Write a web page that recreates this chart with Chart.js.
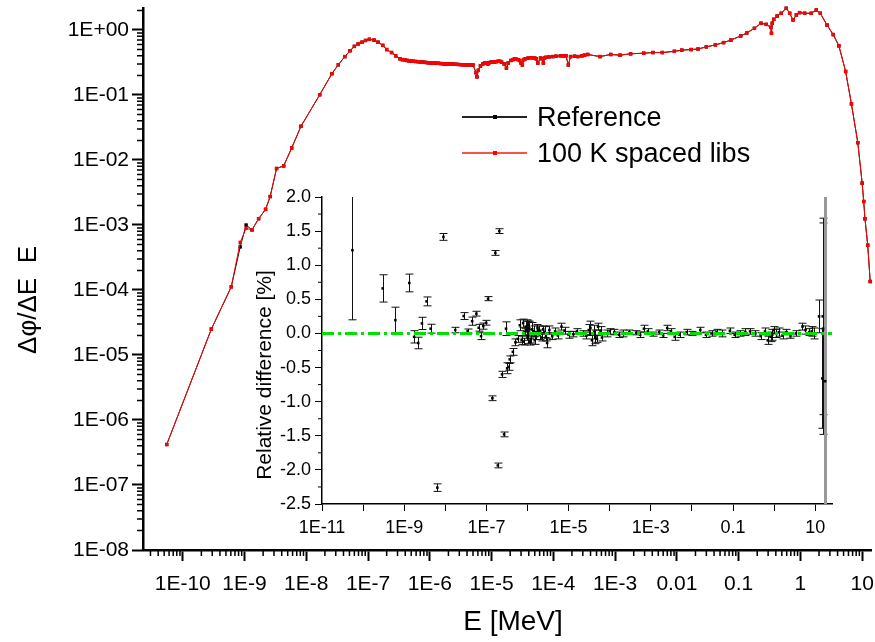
<!DOCTYPE html>
<html>
<head>
<meta charset="utf-8">
<script src="https://cdn.jsdelivr.net/npm/chart.js@4.4.0/dist/chart.umd.min.js"></script>
<style>
  html, body { margin: 0; padding: 0; background: #fff; }
  #wrap { position: relative; width: 875px; height: 642px; overflow: hidden;
          font-family: "Liberation Sans", Arial, sans-serif; }
  #mainChart { position: absolute; left: 0; top: 0; }
  #insetChart { position: absolute; left: 230px; top: 185px; }
  .leg { position: absolute; left: 462px; height: 0; }
  .leg .ln { position: absolute; left: 0; width: 65px; height: 1.5px; top: -1px; }
  .leg .mk { position: absolute; left: 31px; width: 4px; height: 4px; top: -2px; }
  .leg span { position: absolute; left: 75px; top: -16px; font-size: 27px; line-height: 32px;
              white-space: nowrap; color: #000; }
</style>
</head>
<body>
<div id="wrap">
  <canvas id="mainChart" width="875" height="642"></canvas>
  <canvas id="insetChart" width="620" height="360"></canvas>
  <div class="leg" style="top:117px"><div class="ln" style="background:#222"></div><div class="mk" style="background:#000"></div><span>Reference</span></div>
  <div class="leg" style="top:153px"><div class="ln" style="background:#ff5050"></div><div class="mk" style="background:#ff0000"></div><span>100 K spaced libs</span></div>
</div>
<script>
// ---- main spectrum: E [MeV] vs flux per lethargy ----
const energy = [
  5.5e-11, 2.9e-10, 6.1e-10, 8.5e-10, 1.06e-9, 1.32e-9, 1.69e-9, 2.19e-9, 2.6e-9, 3.3e-9,
  4.3e-9, 5.8e-9, 8.2e-9, 1.65e-8, 2.6e-8, 3.3e-8, 4.2e-8, 5.1e-8, 6.0e-8, 6.9e-8,
  8.0e-8, 9.1e-8, 1.05e-7, 1.25e-7, 1.45e-7, 1.73e-7, 2.0e-7, 2.4e-7, 2.8e-7, 3.3e-7,
  3.6e-7, 4.0e-7, 4.3e-7, 4.6e-7, 5.0e-7, 5.4e-7, 5.9e-7, 6.5e-7, 7.1e-7, 7.7e-7,
  8.3e-7, 9.0e-7, 9.7e-7, 1.05e-6, 1.15e-6, 1.25e-6, 1.37e-6, 1.5e-6, 1.62e-6, 1.75e-6,
  1.87e-6, 2.0e-6, 2.2e-6, 2.4e-6, 2.65e-6, 2.9e-6, 3.2e-6, 3.5e-6, 3.85e-6, 4.2e-6,
  4.6e-6, 5.0e-6, 5.6e-6, 5.8e-6, 6.1e-6, 6.6e-6, 7.2e-6, 7.7e-6, 8.2e-6, 8.7e-6,
  9.2e-6, 9.8e-6, 1.04e-5, 1.1e-5, 1.18e-5, 1.27e-5, 1.36e-5, 1.45e-5, 1.6e-5, 1.74e-5,
  1.85e-5, 2.05e-5, 2.2e-5, 2.35e-5, 2.5e-5, 2.7e-5, 2.85e-5, 3.0e-5, 3.15e-5, 3.3e-5,
  3.5e-5, 3.9e-5, 4.3e-5, 4.6e-5, 5.0e-5, 5.3e-5, 5.6e-5, 6.2e-5, 6.55e-5, 6.9e-5,
  7.2e-5, 7.6e-5, 8.5e-5, 9.8e-5, 1.1e-4, 1.3e-4, 1.45e-4, 1.6e-4, 1.75e-4, 1.9e-4,
  2.2e-4, 2.5e-4, 2.9e-4, 3.2e-4, 3.6e-4, 5.7e-4, 8.5e-4, 1.2e-3, 1.78e-3, 2.9e-3,
  4.1e-3, 5.8e-3, 9.1e-3, 1.2e-2, 1.7e-2, 2.2e-2, 3.0e-2, 4.2e-2, 5.7e-2, 7.5e-2,
  0.108, 0.135, 0.18, 0.23, 0.28, 0.33, 0.34, 0.35, 0.37, 0.42,
  0.49, 0.59, 0.67, 0.76, 0.86, 0.97, 1.17, 1.5, 1.81, 2.1,
  2.7, 3.4, 4.2, 5.4, 6.7, 8.5, 10.0, 10.6, 11.1, 12.3,
  13.5
];
const libFlux = [
  4.2e-7, 2.5e-5, 1.12e-4, 5.4e-4, 8.9e-4, 8.4e-4, 1.25e-3, 1.74e-3, 2.74e-3, 7.4e-3,
  8.1e-3, 1.53e-2, 3.3e-2, 0.101, 0.213, 0.292, 0.389, 0.48, 0.56, 0.61,
  0.65, 0.69, 0.72, 0.70, 0.65, 0.58, 0.50, 0.45, 0.40, 0.36,
  0.35, 0.345, 0.34, 0.335, 0.333, 0.33, 0.328, 0.325, 0.322, 0.32,
  0.318, 0.315, 0.313, 0.31, 0.31, 0.31, 0.308, 0.305, 0.303, 0.30,
  0.30, 0.30, 0.30, 0.30, 0.297, 0.295, 0.293, 0.29, 0.29, 0.29,
  0.29, 0.29, 0.22, 0.19, 0.24, 0.28, 0.30, 0.31, 0.31, 0.30,
  0.315, 0.32, 0.32, 0.32, 0.325, 0.33, 0.33, 0.32, 0.30, 0.26,
  0.31, 0.34, 0.35, 0.36, 0.355, 0.35, 0.34, 0.31, 0.29, 0.35,
  0.36, 0.37, 0.375, 0.375, 0.37, 0.36, 0.31, 0.37, 0.36, 0.31,
  0.37, 0.38, 0.385, 0.39, 0.395, 0.40, 0.40, 0.40, 0.29, 0.39,
  0.395, 0.39, 0.40, 0.41, 0.42, 0.39, 0.42, 0.41, 0.43, 0.44,
  0.45, 0.45, 0.47, 0.49, 0.50, 0.51, 0.55, 0.59, 0.64, 0.70,
  0.81, 0.90, 1.06, 1.27, 1.22, 1.10, 0.89, 1.27, 1.46, 1.64,
  1.81, 2.16, 1.81, 1.43, 1.70, 1.85, 1.81, 1.81, 2.03, 1.81,
  1.19, 0.85, 0.57, 0.23, 0.073, 0.0185, 4.4e-3, 2.3e-3, 1.25e-3, 4.9e-4,
  1.35e-4
];
const refFlux = [
  4.2e-7, 2.5e-5, 1.12e-4, 4.6e-4, 1.0e-3, 8.4e-4, 1.25e-3, 1.74e-3, 2.74e-3, 7.4e-3,
  8.1e-3, 1.53e-2, 3.3e-2, 0.101, 0.213, 0.292, 0.389, 0.48, 0.56, 0.61,
  0.65, 0.69, 0.72, 0.70, 0.65, 0.58, 0.50, 0.45, 0.40, 0.36,
  0.35, 0.345, 0.34, 0.335, 0.333, 0.33, 0.328, 0.325, 0.322, 0.32,
  0.318, 0.315, 0.313, 0.31, 0.31, 0.31, 0.308, 0.305, 0.303, 0.30,
  0.30, 0.30, 0.30, 0.30, 0.297, 0.295, 0.293, 0.29, 0.29, 0.29,
  0.29, 0.29, 0.22, 0.19, 0.24, 0.28, 0.30, 0.31, 0.31, 0.30,
  0.315, 0.32, 0.32, 0.32, 0.325, 0.33, 0.33, 0.32, 0.30, 0.26,
  0.31, 0.34, 0.35, 0.36, 0.355, 0.35, 0.34, 0.31, 0.29, 0.35,
  0.36, 0.37, 0.375, 0.375, 0.37, 0.36, 0.31, 0.37, 0.36, 0.31,
  0.37, 0.38, 0.385, 0.39, 0.395, 0.40, 0.40, 0.40, 0.29, 0.39,
  0.395, 0.39, 0.40, 0.41, 0.42, 0.39, 0.42, 0.41, 0.43, 0.44,
  0.45, 0.45, 0.47, 0.49, 0.50, 0.51, 0.55, 0.59, 0.64, 0.70,
  0.81, 0.90, 1.06, 1.27, 1.22, 1.10, 0.89, 1.27, 1.46, 1.64,
  1.81, 2.16, 1.81, 1.43, 1.70, 1.85, 1.81, 1.81, 2.03, 1.81,
  1.19, 0.85, 0.57, 0.23, 0.073, 0.0185, 4.4e-3, 2.3e-3, 1.25e-3, 4.9e-4,
  1.35e-4
];
const mainXTickValues = [1e-10, 1e-9, 1e-8, 1e-7, 1e-6, 1e-5, 1e-4, 1e-3, 1e-2, 1e-1, 1, 10];
const mainXTickLabels = ["1E-10", "1E-9", "1E-8", "1E-7", "1E-6", "1E-5", "1E-4", "1E-3", "0.01", "0.1", "1", "10"];
const mainYTickValues = [1e-8, 1e-7, 1e-6, 1e-5, 1e-4, 1e-3, 1e-2, 1e-1, 1];
const mainYTickLabels = ["1E-08", "1E-07", "1E-06", "1E-05", "1E-04", "1E-03", "1E-02", "1E-01", "1E+00"];

// ---- inset: relative difference [%] with uncertainties ----
const rdEnergy = [
  5.5e-11, 3.0e-10, 6.1e-10, 1.33e-9, 1.74e-9, 2.2e-9, 2.7e-9, 3.5e-9, 4.4e-9, 6.4e-9,
  9.0e-9, 1.74e-8, 2.8e-8, 3.5e-8, 4.5e-8, 5.7e-8, 6.5e-8, 7.4e-8, 8.4e-8, 9.8e-8,
  1.1e-7, 1.4e-7, 1.65e-7, 1.9e-7, 2.06e-7, 2.4e-7, 2.7e-7, 3.0e-7, 3.2e-7, 3.5e-7,
  3.7e-7, 4.4e-7, 5.1e-7, 5.8e-7, 6.5e-7, 7.2e-7, 7.8e-7, 8.0e-7, 8.5e-7, 9.0e-7,
  9.5e-7, 1.0e-6, 1.05e-6, 1.1e-6, 1.15e-6, 1.2e-6, 1.3e-6, 1.4e-6, 1.5e-6, 1.6e-6,
  1.75e-6, 1.9e-6, 2.0e-6, 2.2e-6, 2.4e-6, 2.6e-6, 2.8e-6, 3.0e-6, 3.4e-6, 4.0e-6,
  4.7e-6, 5.5e-6, 6.7e-6, 8.0e-6, 1.0e-5, 1.3e-5, 1.6e-5, 2.2e-5, 2.7e-5, 3.1e-5,
  3.4e-5, 3.7e-5, 4.2e-5, 4.5e-5, 4.8e-5, 5.2e-5, 6.0e-5, 6.5e-5, 8.4e-5, 1.0e-4,
  1.3e-4, 1.7e-4, 2.1e-4, 3.0e-4, 4.4e-4, 5.5e-4, 6.8e-4, 8.5e-4, 1.1e-3, 1.6e-3,
  2.0e-3, 2.5e-3, 3.1e-3, 3.8e-3, 5.0e-3, 7.4e-3, 1.0e-2, 1.6e-2, 2.2e-2, 3.0e-2,
  4.0e-2, 5.3e-2, 8.4e-2, 0.11, 0.15, 0.2, 0.26, 0.35, 0.47, 0.6,
  0.7, 0.82, 0.9, 0.98, 1.1, 1.3, 1.6, 2.0, 2.5, 3.4,
  4.9, 5.8, 7.2, 8.3, 9.1, 12.4, 14.8, 15.2, 15.5
];
const rdValue = [
  1.22, 0.66, 0.195, 0.74, -0.05, -0.14, 0.147, 0.47, 0.07, -2.26,
  1.415, 0.05, 0.255, 0.035, 0.18, 0.29, 0.083, -0.04, 0.107, 0.157,
  0.51, -0.95, 1.18, -1.935, 1.50, -0.60, -1.48, 0.07, -0.51, -0.49,
  -0.38, -0.27, -0.13, -0.08, 0.12, -0.10, 0.15, -0.12, 0.02, 0.10,
  0.05, -0.05, 0.12, 0.08, -0.12, -0.08, 0.06, 0.03, -0.10, -0.03,
  0.08, 0.05, -0.02, -0.06, 0.06, 0.02, -0.05, -0.14, 0.05, -0.04,
  0.03, -0.03, 0.10, 0.04, -0.02, -0.01, 0.03, 0.0, -0.03, 0.05,
  0.08, -0.10, 0.02, -0.05, -0.08, 0.10, 0.04, -0.06, 0.0, 0.03,
  0.02, -0.02, 0.0, 0.02, 0.01, -0.02, 0.07, 0.03, -0.01, 0.02,
  -0.03, 0.08, 0.03, -0.05, -0.02, 0.02, 0.0, 0.05, -0.02, 0.0,
  0.02, 0.0, 0.04, -0.02, 0.0, 0.02, 0.03, 0.0, -0.04, 0.03,
  -0.10, -0.05, -0.02, 0.05, 0.0, 0.02, -0.03, 0.02, -0.04, 0.0,
  0.10, 0.05, 0.02, 0.03, 0.0, 0.25, -0.66, 0.25, 0.07
];
const rdError = [
  1.02, 0.20, 0.19, 0.13, 0.09, 0.085, 0.09, 0.065, 0.065, 0.055,
  0.05, 0.04, 0.05, 0.03, 0.06, 0.035, 0.05, 0.05, 0.045, 0.035,
  0.03, 0.035, 0.035, 0.035, 0.035, 0.045, 0.035, 0.10, 0.08, 0.05,
  0.05, 0.05, 0.05, 0.05, 0.08, 0.06, 0.06, 0.05, 0.05, 0.08,
  0.15, 0.10, 0.06, 0.10, 0.05, 0.06, 0.10, 0.08, 0.06, 0.06,
  0.05, 0.06, 0.07, 0.05, 0.05, 0.08, 0.06, 0.07, 0.06, 0.05,
  0.05, 0.05, 0.05, 0.05, 0.05, 0.04, 0.04, 0.04, 0.05, 0.08,
  0.10, 0.08, 0.10, 0.10, 0.05, 0.05, 0.06, 0.05, 0.05, 0.04,
  0.04, 0.04, 0.05, 0.03, 0.03, 0.04, 0.05, 0.04, 0.03, 0.03,
  0.03, 0.04, 0.04, 0.05, 0.04, 0.04, 0.03, 0.04, 0.04, 0.04,
  0.04, 0.05, 0.04, 0.04, 0.04, 0.05, 0.04, 0.04, 0.05, 0.05,
  0.06, 0.07, 0.08, 0.05, 0.06, 0.06, 0.05, 0.04, 0.03, 0.04,
  0.05, 0.06, 0.05, 0.07, 0.08, 0.24, 0.73, 1.44, 1.55
];
// the one point whose bar runs past both ends of the inset axis
const rdWideEnergy = [17.4];
const rdWideValue = [-0.70];
const rdWideError = [3.5];
const insetXTickValues = [1e-11, 1e-10, 1e-9, 1e-8, 1e-7, 1e-6, 1e-5, 1e-4, 1e-3, 1e-2, 1e-1, 1, 10];
const insetXTickLabels = ["1E-11", "", "1E-9", "", "1E-7", "", "1E-5", "", "1E-3", "", "0.1", "", "10"];

const FONT = "'Liberation Sans', Arial, sans-serif";
const pts = (xs, ys) => xs.map((x, i) => ({ x: x, y: ys[i] }));

// short unlabeled ticks between the major ones
const minorTicks = {
  id: 'minorTicks',
  afterDraw(chart) {
    const ctx = chart.ctx;
    Object.values(chart.scales).forEach(s => {
      const len = s.options.minorLength;
      if (!len) return;
      const vals = [];
      if (s.type === 'logarithmic') {
        const d0 = Math.floor(Math.log10(s.min)), d1 = Math.ceil(Math.log10(s.max));
        for (let d = d0; d <= d1; d++) {
          for (let k = 2; k <= 9; k++) {
            const v = k * Math.pow(10, d);
            if (v > s.min && v < s.max) vals.push(v);
          }
        }
      } else {
        const st = s.options.minorStep;
        for (let v = s.min + st; v < s.max; v += 2 * st) vals.push(v);
      }
      ctx.save();
      ctx.strokeStyle = '#000';
      ctx.lineWidth = s.options.minorWidth || 1;
      ctx.beginPath();
      vals.forEach(v => {
        const p = s.getPixelForValue(v);
        if (s.isHorizontal()) { ctx.moveTo(p, s.top); ctx.lineTo(p, s.top + len); }
        else { ctx.moveTo(s.right, p); ctx.lineTo(s.right - len, p); }
      });
      ctx.stroke();
      ctx.restore();
    });
  }
};

// axis titles placed where the original has them
const axisTitles = {
  id: 'axisTitles',
  afterDraw(chart, args, opts) {
    const ctx = chart.ctx;
    (opts.items || []).forEach(t => {
      ctx.save();
      ctx.font = t.size + 'px ' + FONT;
      ctx.fillStyle = '#000';
      ctx.textAlign = 'center';
      ctx.textBaseline = 'middle';
      ctx.translate(t.x, t.y);
      if (t.rotate) ctx.rotate(-Math.PI / 2);
      ctx.fillText(t.text, 0, 0);
      ctx.restore();
    });
  }
};

// vertical error bars with caps, drawn under the markers
const errorBars = {
  id: 'errorBars',
  beforeDatasetsDraw(chart) {
    const { ctx, chartArea } = chart;
    const xs = chart.scales.x, ys = chart.scales.y;
    ctx.save();
    ctx.beginPath();
    ctx.rect(chartArea.left, chartArea.top, chartArea.right - chartArea.left, chartArea.bottom - chartArea.top);
    ctx.clip();
    chart.data.datasets.forEach(ds => {
      if (!ds.errors) return;
      ctx.strokeStyle = ds.errorColor;
      ctx.lineWidth = ds.errorWidth;
      ds.data.forEach((p, i) => {
        const px = Math.round(xs.getPixelForValue(p.x)) + 0.5;
        const top = ys.getPixelForValue(p.y + ds.errors[i]);
        const bot = ys.getPixelForValue(p.y - ds.errors[i]);
        ctx.beginPath();
        ctx.moveTo(px, top); ctx.lineTo(px, bot);
        ctx.moveTo(px - 4, top); ctx.lineTo(px + 4, top);
        ctx.moveTo(px - 4, bot); ctx.lineTo(px + 4, bot);
        ctx.stroke();
      });
    });
    ctx.restore();
  }
};

const noPad = s => { s.paddingLeft = 0; s.paddingRight = 0; s.paddingTop = 0; s.paddingBottom = 0; };

new Chart(document.getElementById('mainChart'), {
  type: 'line',
  data: {
    datasets: [
      {
        label: '100 K spaced libs',
        data: pts(energy, libFlux),
        borderColor: '#ff0000', backgroundColor: '#ff0000',
        borderWidth: 1, pointStyle: 'rect', pointRadius: 2.4, pointBorderWidth: 0,
        order: 0, clip: false
      },
      {
        label: 'Reference',
        data: pts(energy, refFlux),
        borderColor: '#000', backgroundColor: '#000',
        borderWidth: 1, pointStyle: 'rect', pointRadius: 2.4, pointBorderWidth: 0,
        order: 1, clip: false
      }
    ]
  },
  options: {
    responsive: false,
    animation: false,
    layout: { padding: { top: 8, right: 0, left: 0, bottom: 0 } },
    plugins: {
      legend: { display: false },
      tooltip: { enabled: false },
      axisTitles: { items: [
        { text: 'Δφ/ΔE  E', x: 29, y: 300, size: 26, rotate: true },
        { text: 'E [MeV]', x: 513, y: 622, size: 28 }
      ] }
    },
    scales: {
      x: {
        type: 'logarithmic', min: 2.27e-11, max: 13.9,
        afterBuildTicks: s => { s.ticks = mainXTickValues.map(v => ({ value: v })); },
        afterFit: s => { s.height = 92; noPad(s); },
        ticks: { autoSkip: false, maxRotation: 0, padding: 11, color: '#000',
                 font: { size: 21, family: FONT },
                 callback: (v, i) => mainXTickLabels[i] },
        grid: { drawOnChartArea: false, tickLength: 11, tickWidth: 2, color: '#000' },
        border: { color: '#000', width: 2.5 },
        minorLength: 6, minorWidth: 1.5
      },
      y: {
        type: 'logarithmic', min: 1e-8, max: 2.18,
        afterBuildTicks: s => { s.ticks = mainYTickValues.map(v => ({ value: v })); },
        afterFit: s => { s.width = 143; noPad(s); },
        ticks: { autoSkip: false, padding: 3, color: '#000',
                 font: { size: 21, family: FONT },
                 callback: (v, i) => mainYTickLabels[i] },
        grid: { drawOnChartArea: false, tickLength: 11, tickWidth: 2, color: '#000' },
        border: { color: '#000', width: 2.5 },
        minorLength: 6, minorWidth: 1.5
      }
    }
  },
  plugins: [minorTicks, axisTitles]
});

new Chart(document.getElementById('insetChart'), {
  type: 'line',
  data: {
    datasets: [
      {
        label: 'zero',
        data: [{ x: 1e-11, y: 0 }, { x: 25.6, y: 0 }],
        borderColor: '#00e000', borderWidth: 3, borderDash: [12, 4, 3, 4],
        pointRadius: 0, order: 0
      },
      {
        label: 'difference',
        data: pts(rdEnergy, rdValue),
        showLine: false, pointStyle: 'rect', pointRadius: 1.8, pointBorderWidth: 0,
        backgroundColor: '#000', borderColor: '#000',
        errors: rdError, errorColor: '#111', errorWidth: 1, order: 1
      },
      {
        label: 'wide',
        data: pts(rdWideEnergy, rdWideValue),
        showLine: false, pointStyle: 'rect', pointRadius: 1.8, pointBorderWidth: 0,
        backgroundColor: '#000', borderColor: '#000',
        errors: rdWideError, errorColor: '#999', errorWidth: 3, order: 2
      }
    ]
  },
  options: {
    responsive: false,
    animation: false,
    layout: { padding: { top: 12, right: 18, left: 0, bottom: 0 } },
    plugins: {
      legend: { display: false },
      tooltip: { enabled: false },
      axisTitles: { items: [
        { text: 'Relative difference [%]', x: 35, y: 190, size: 21, rotate: true }
      ] }
    },
    scales: {
      x: {
        type: 'logarithmic', min: 1e-11, max: 25.6,
        afterBuildTicks: s => { s.ticks = insetXTickValues.map(v => ({ value: v })); },
        afterFit: s => { s.height = 41; noPad(s); },
        ticks: { autoSkip: false, maxRotation: 0, padding: 6, color: '#000',
                 font: { size: 18, family: FONT },
                 callback: (v, i) => insetXTickLabels[i] },
        grid: { drawOnChartArea: false, tickLength: 7, tickWidth: 1, color: '#000' },
        border: { color: '#000', width: 1.5 }
      },
      y: {
        type: 'linear', min: -2.5, max: 2.0,
        afterFit: s => { s.width = 92; noPad(s); },
        ticks: { stepSize: 0.5, padding: 4, color: '#000',
                 font: { size: 18, family: FONT },
                 callback: v => v.toFixed(1) },
        grid: { drawOnChartArea: false, tickLength: 7, tickWidth: 1, color: '#000' },
        border: { color: '#000', width: 1.5 },
        minorLength: 4, minorStep: 0.25, minorWidth: 1
      }
    }
  },
  plugins: [errorBars, minorTicks, axisTitles]
});
</script>
</body>
</html>
